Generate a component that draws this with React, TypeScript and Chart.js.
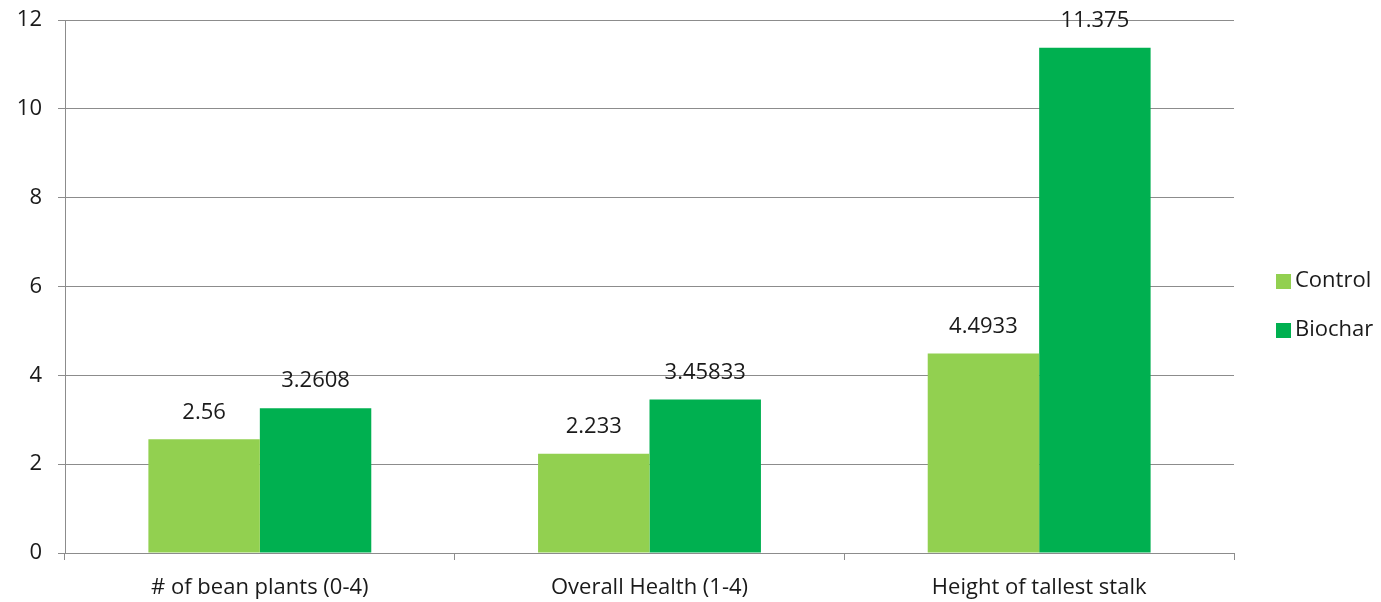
import React, { useEffect, useRef } from "react";
import { Chart, registerables } from "chart.js";

Chart.register(...registerables);

const categories = ["# of bean plants (0-4)", "Overall Health (1-4)", "Height of tallest stalk"];
const controlValues = [2.56, 2.233, 4.4933];
const biocharValues = [3.2608, 3.45833, 11.375];
const valueLabels = [
  ["2.56", "2.233", "4.4933"],
  ["3.2608", "3.45833", "11.375"],
];
const seriesNames = ["Control", "Biochar"];
const seriesColors = ["#92D050", "#00B050"];

const FONT = "'Open Sans', Lato, sans-serif";
const FONT_SIZE = 22;
const TEXT = "#1a1a1a";
const GRID = "#8c8c8c";

const valueLabelPlugin = {
  id: "valueLabels",
  afterDatasetsDraw(chart: any) {
    const ctx = chart.ctx;
    ctx.save();
    ctx.font = `${FONT_SIZE}px ${FONT}`;
    ctx.fillStyle = TEXT;
    ctx.textAlign = "center";
    ctx.textBaseline = "middle";
    chart.data.datasets.forEach((_ds: any, i: number) => {
      const meta = chart.getDatasetMeta(i);
      meta.data.forEach((bar: any, j: number) => {
        ctx.fillText(valueLabels[i][j], bar.x, bar.y - 27);
      });
    });
    ctx.restore();
  },
};

const sideLegendPlugin = {
  id: "sideLegend",
  afterDraw(chart: any) {
    const ctx = chart.ctx;
    ctx.save();
    ctx.font = `${FONT_SIZE}px ${FONT}`;
    ctx.textBaseline = "middle";
    ctx.textAlign = "left";
    const x = chart.chartArea.right + 42;
    const y0 = 281;
    seriesNames.forEach((name, i) => {
      const y = y0 + i * 49;
      ctx.fillStyle = seriesColors[i];
      ctx.fillRect(x, y - 7, 15, 15);
      ctx.fillStyle = TEXT;
      ctx.fillText(name, x + 19, y);
    });
    ctx.restore();
  },
};

export default function App() {
  const canvasRef = useRef<HTMLCanvasElement | null>(null);

  useEffect(() => {
    if (!canvasRef.current) return;
    const chart = new Chart(canvasRef.current, {
      type: "bar",
      data: {
        labels: categories,
        datasets: [
          {
            label: seriesNames[0],
            data: controlValues,
            backgroundColor: seriesColors[0],
            categoryPercentage: 0.572,
            barPercentage: 1,
          },
          {
            label: seriesNames[1],
            data: biocharValues,
            backgroundColor: seriesColors[1],
            categoryPercentage: 0.572,
            barPercentage: 1,
          },
        ],
      },
      options: {
        animation: false,
        responsive: false,
        maintainAspectRatio: false,
        layout: { padding: { top: 20, right: 147, left: 0, bottom: 0 } },
        plugins: {
          legend: { display: false },
          tooltip: { enabled: false },
        },
        scales: {
          x: {
            offset: true,
            grid: {
              offset: true,
              drawOnChartArea: false,
              drawTicks: true,
              tickLength: 7,
              color: GRID,
            },
            border: { color: GRID, width: 1 },
            ticks: { color: TEXT, font: { family: FONT, size: FONT_SIZE }, padding: 15 },
            afterFit(scale: any) {
              scale.height = 49;
              scale.paddingLeft = 0;
              scale.paddingRight = 0;
            },
          },
          y: {
            min: 0,
            max: 12,
            ticks: { stepSize: 2, color: TEXT, font: { family: FONT, size: FONT_SIZE }, padding: 16 },
            grid: { color: GRID, tickLength: 7, lineWidth: 1 },
            border: { color: GRID, width: 1 },
            afterFit(scale: any) {
              scale.width = 65;
              scale.paddingTop = 0;
              scale.paddingBottom = 0;
            },
          },
        },
      },
      plugins: [valueLabelPlugin, sideLegendPlugin],
    });
    return () => chart.destroy();
  }, []);

  return (
    <div style={{ position: "absolute", left: 0, top: 0, width: 1381, height: 602, background: "#fff" }}>
      <canvas ref={canvasRef} width={1381} height={602} style={{ width: 1381, height: 602 }} />
    </div>
  );
}
